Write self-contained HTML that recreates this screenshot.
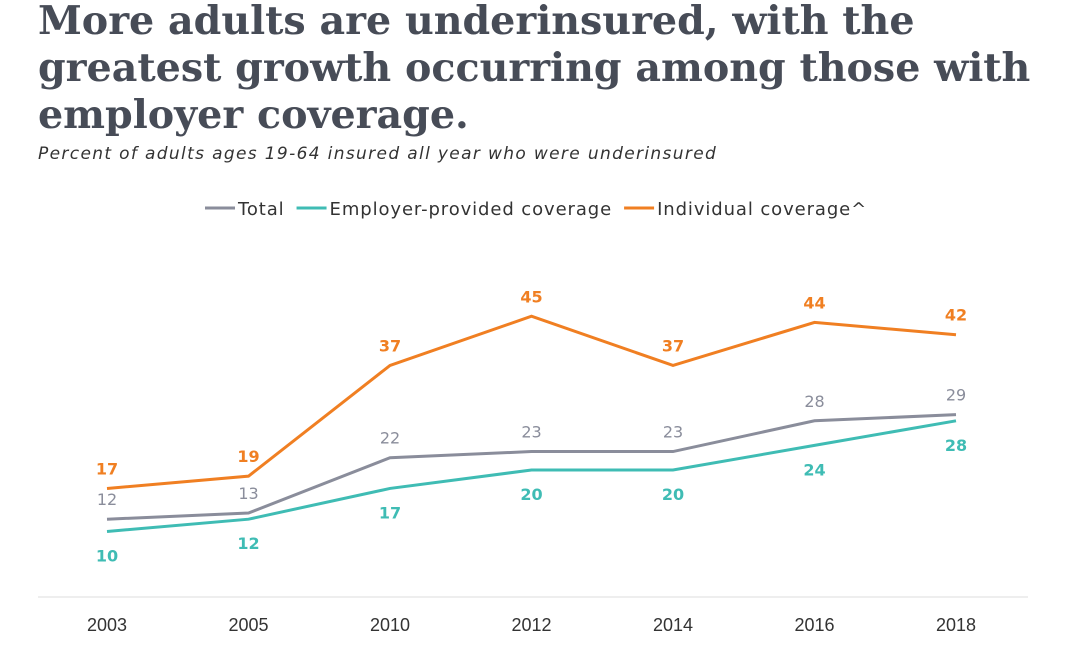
<!DOCTYPE html>
<html><head><meta charset="utf-8"><style>
body{margin:0;width:1080px;height:657px;background:#fff;overflow:hidden;font-family:"Liberation Sans",sans-serif}
h1{position:absolute;left:38px;top:-2px;margin:0;font-family:"DejaVu Serif",serif;font-weight:bold;font-size:39.6px;line-height:47px;color:#474c57;white-space:nowrap}
.sub{position:absolute;left:38px;top:144px;font-family:"DejaVu Sans",sans-serif;font-style:italic;font-size:17px;letter-spacing:1.35px;color:#333;white-space:nowrap}
svg{position:absolute;left:0;top:0}
</style></head><body>
<h1>More adults are underinsured, with the<br>greatest growth occurring among those with<br>employer coverage.</h1>
<div class="sub">Percent of adults ages 19-64 insured all year who were underinsured</div>
<svg id="c" width="1080" height="657"></svg>
<script>
const years=["2003","2005","2010","2012","2014","2016","2018"];
const total=[12,13,22,23,23,28,29];
const employer=[10,12,17,20,20,24,28];
const individual=[17,19,37,45,37,44,42];
const series=[
 {name:"Total",vals:total,color:"#8a8d9b",pos:"above"},
 {name:"Employer-provided coverage",vals:employer,color:"#3fbcb4",pos:"below"},
 {name:"Individual coverage^",vals:individual,color:"#f07f22",pos:"above"}];
const svg=document.getElementById('c');const NS="http://www.w3.org/2000/svg";
const x=i=>107+i*141.5;const y=v=>593-v*6.15;
function mk(t,a,txt){const e=document.createElementNS(NS,t);for(const k in a)e.setAttribute(k,a[k]);if(txt!=null)e.textContent=txt;svg.appendChild(e);return e;}
const ax=mk('line',{x1:38,x2:1028,y1:597,y2:597,stroke:"#ddd","stroke-width":1});


years.forEach((yr,i)=>{const t=mk('text',{x:x(i),y:631,"text-anchor":"middle","font-size":18,fill:"#333"},yr);

});
let lx=205;
series.forEach(s=>{const l=mk('line',{x1:lx,x2:lx+30,y1:208,y2:208,stroke:s.color,"stroke-width":3});


const t=mk('text',{x:lx+33,y:215,"font-size":18,"letter-spacing":"0.9","font-family":"DejaVu Sans, sans-serif",fill:"#333"},s.name);


lx+=33+t.getComputedTextLength()+12;});
series.forEach(s=>{const p=mk('polyline',{points:s.vals.map((v,i)=>x(i)+","+y(v)).join(" "),fill:"none",stroke:s.color,"stroke-width":3});


s.vals.forEach((v,i)=>{let dy=s.pos=="above"?-14:30;
const t=mk('text',{x:x(i),y:y(v)+dy,"text-anchor":"middle","font-size":16,"font-family":"DejaVu Sans, sans-serif","font-weight":s.name=="Total"?"normal":"bold",fill:s.color},v);

});});
</script>
</body></html>
